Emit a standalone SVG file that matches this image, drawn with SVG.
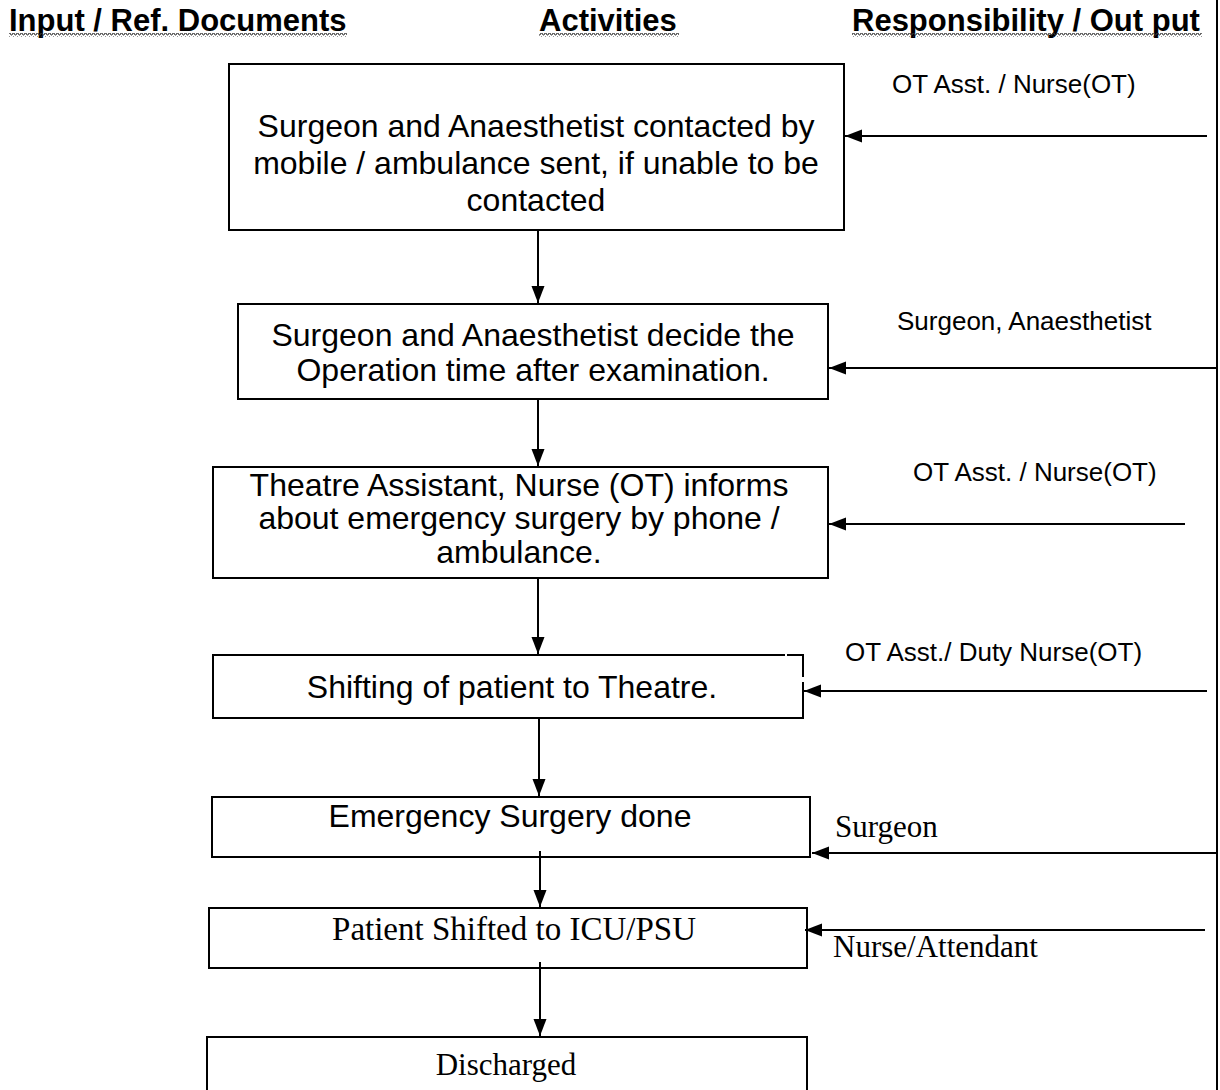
<svg xmlns="http://www.w3.org/2000/svg" width="1220" height="1090" viewBox="0 0 1220 1090">
  <style>
    .head { font-family: "Liberation Sans", Arial, sans-serif; font-weight: bold; font-size: 31px; fill: #000; }
    .box { fill: #fff; stroke: #000; stroke-width: 2; }
    .edge { fill: none; stroke: #000; stroke-width: 2; }
    .big { font-family: "Liberation Sans", Arial, sans-serif; font-size: 32px; fill: #000; text-anchor: middle; }
    .serif { font-family: "Liberation Serif", "Times New Roman", serif; font-size: 31px; fill: #000; }
    .role { font-family: "Liberation Sans", Arial, sans-serif; font-size: 26px; fill: #000; }
    .link { fill: none; stroke: #000; stroke-width: 2; marker-end: url(#arrow); }
  </style>
  <defs>
    <marker id="arrow" markerUnits="userSpaceOnUse" markerWidth="18" markerHeight="14" refX="17" refY="6.5" orient="auto">
      <path d="M0,0 L17,6.5 L0,13 Z" fill="#000"/>
    </marker>
    <pattern id="squiggle" x="0" y="0" width="4" height="4" patternUnits="userSpaceOnUse">
      <path d="M0,3 L1,1 L2,1 L3,3 L4,3" fill="none" stroke="#333" stroke-width="1"/>
    </pattern>
  </defs>

  <!-- column headings with wavy proofing underlines -->
  <g id="headings">
    <text class="head" x="9" y="31">Input / Ref. Documents</text>
    <rect x="9" y="33" width="338" height="4" fill="url(#squiggle)"/>
    <text class="head" x="539" y="31">Activities</text>
    <rect x="539" y="33" width="140" height="4" fill="url(#squiggle)"/>
    <text class="head" x="852" y="31">Responsibility / Out put</text>
    <rect x="852" y="33" width="350" height="4" fill="url(#squiggle)"/>
  </g>

  <!-- right-hand border -->
  <line x1="1217" y1="0" x2="1217" y2="1090" stroke="#000" stroke-width="2"/>

  <g id="contact">
    <rect class="box" x="229" y="64" width="615" height="166"/>
    <text class="big" x="536" y="137">Surgeon and Anaesthetist contacted by</text>
    <text class="big" x="536" y="174">mobile / ambulance sent, if unable to be</text>
    <text class="big" x="536" y="211">contacted</text>
  </g>

  <g id="decide">
    <rect class="box" x="238" y="304" width="590" height="95"/>
    <text class="big" x="533" y="346">Surgeon and Anaesthetist decide the</text>
    <text class="big" x="533" y="381">Operation time after examination.</text>
  </g>

  <g id="inform">
    <rect class="box" x="213" y="467" width="615" height="111"/>
    <text class="big" x="519" y="496">Theatre Assistant, Nurse (OT) informs</text>
    <text class="big" x="519" y="529">about emergency surgery by phone /</text>
    <text class="big" x="519" y="563">ambulance.</text>
  </g>

  <g id="shift-theatre">
    <path class="edge" d="M785,655 L213,655 L213,718 L803,718 L803,682 M803,677 L803,655 L787,655"/>
    <text class="big" x="512" y="698">Shifting of patient to Theatre.</text>
  </g>

  <g id="surgery">
    <rect class="box" x="212" y="797" width="598" height="60"/>
    <text class="big" x="510" y="827">Emergency Surgery done</text>
  </g>

  <g id="icu">
    <rect class="box" x="209" y="908" width="598" height="60"/>
    <text class="serif" x="514" y="940" text-anchor="middle" style="font-size:33px">Patient Shifted to ICU/PSU</text>
  </g>

  <g id="discharged">
    <rect class="box" x="207" y="1037" width="600" height="70"/>
    <text class="serif" x="506" y="1075" text-anchor="middle">Discharged</text>
  </g>

  <!-- responsibility labels -->
  <g id="roles">
    <text class="role" x="892" y="93">OT Asst. / Nurse(OT)</text>
    <text class="role" x="897" y="330">Surgeon, Anaesthetist</text>
    <text class="role" x="913" y="481">OT Asst. / Nurse(OT)</text>
    <text class="role" x="845" y="661">OT Asst./ Duty Nurse(OT)</text>
    <text class="serif" x="835" y="837">Surgeon</text>
    <text class="serif" x="833" y="957">Nurse/Attendant</text>
  </g>

  <g id="connectors">
    <!-- main flow -->
    <line class="link" x1="538" y1="230" x2="538" y2="303"/>
    <line class="link" x1="538" y1="399" x2="538" y2="466"/>
    <line class="link" x1="538" y1="578" x2="538" y2="654"/>
    <line class="link" x1="539" y1="718" x2="539" y2="796"/>
    <line class="link" x1="540" y1="851" x2="540" y2="907"/>
    <line class="link" x1="540" y1="962" x2="540" y2="1036"/>
    <!-- responsibility feeds -->
    <line class="link" x1="1207" y1="136" x2="845" y2="136"/>
    <line class="link" x1="1217" y1="368" x2="829" y2="368"/>
    <line class="link" x1="1185" y1="524" x2="829" y2="524"/>
    <line class="link" x1="1207" y1="691" x2="804" y2="691"/>
    <line class="link" x1="1217" y1="853" x2="812" y2="853"/>
    <line class="link" x1="1205" y1="930" x2="805" y2="930"/>
  </g>
</svg>
